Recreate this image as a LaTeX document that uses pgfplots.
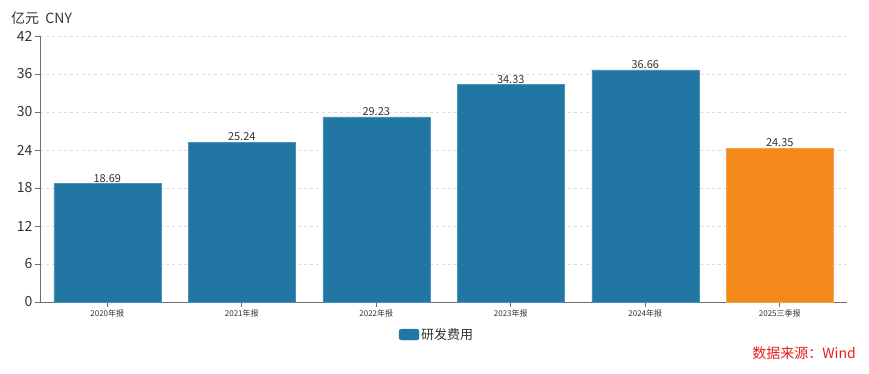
\documentclass[border=0pt]{standalone}
\usepackage{fontspec}
\setmainfont{Noto Sans CJK SC}
\usepackage{pgfplots}
\pgfplotsset{compat=1.18}
\definecolor{barblue}{HTML}{2176A3}
\definecolor{barorange}{HTML}{F5891C}
\definecolor{axgray}{HTML}{6E6E6E}
\definecolor{gridgray}{HTML}{DDDDDD}
\definecolor{txtgray}{HTML}{333333}
\definecolor{srcred}{HTML}{E41E1E}
\begin{document}
\begin{tikzpicture}[x=1pt,y=1pt]
\useasboundingbox (0,0) rectangle (869,374);
\begin{axis}[
  at={(40pt,72pt)}, anchor=south west,
  scale only axis, width=807pt, height=266pt,
  xmin=-0.5, xmax=5.5, ymin=0, ymax=42,
  ytick={0,6,...,42},
  xtick={0,1,2,3,4,5},
  xticklabels={2020年报,2021年报,2022年报,2023年报,2024年报,2025三季报},
  axis x line*=bottom, axis y line*=left,
  axis line style={axgray, line width=0.8pt},
  tick style={axgray, line width=0.8pt},
  tick align=outside, major tick length=5pt,
  ymajorgrids, grid style={gridgray, dashed, line width=0.6pt},
  /pgf/number format/assume math mode=true,
  yticklabel style={font=\fontsize{14}{14}\selectfont, text=txtgray, xshift=1pt},
  xticklabel style={font=\fontsize{8}{8}\selectfont, text=txtgray, yshift=1pt},
  ybar, bar width=107pt, bar shift=0pt,
  nodes near coords,
  every node near coord/.append style={font=\fontsize{11}{11}\selectfont, text=txtgray, yshift=-2.5pt, /pgf/number format/.cd, fixed, fixed zerofill, precision=2, assume math mode=true},
  legend style={at={(0.492,-0.085)}, anchor=north, draw=none, fill=none, font=\fontsize{13}{13}\selectfont, text=txtgray},
  legend image code/.code={\fill[rounded corners=2.5pt, barblue] (0pt,-5pt) rectangle (20pt,6pt);},
  clip=false,
]
\addplot[fill=barblue, draw=barblue!80!white] coordinates {(0,18.69) (1,25.24) (2,29.23) (3,34.33) (4,36.66)};
\addlegendentry{研发费用}
\addplot[fill=barorange, draw=barorange!80!white, forget plot] coordinates {(5,24.35)};
\end{axis}
\node[anchor=west, font=\fontsize{14}{14}\selectfont, text=txtgray, inner sep=0pt] at (11,356) {亿元\ \ CNY};
\node[anchor=east, font=\fontsize{14}{14}\selectfont, text=srcred, inner sep=0pt] at (856,21) {数据来源：Wind};
\end{tikzpicture}
\end{document}
